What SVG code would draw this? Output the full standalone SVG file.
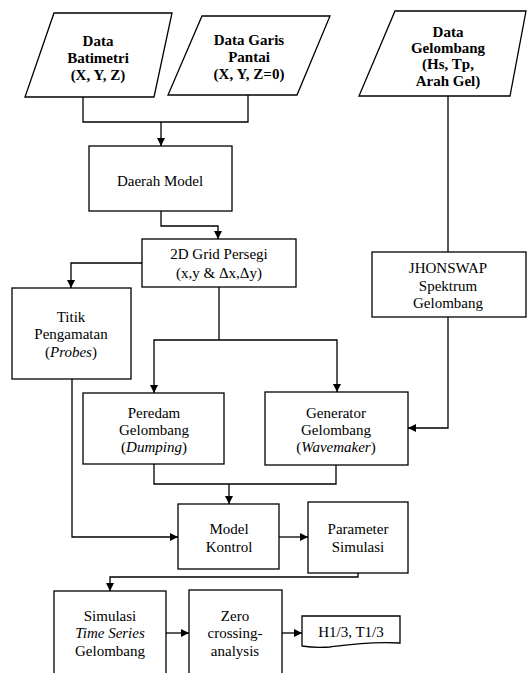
<svg xmlns="http://www.w3.org/2000/svg" width="527" height="673" viewBox="0 0 527 673" font-family="'Liberation Serif', 'Times New Roman', Times, 'DejaVu Serif', serif">
<defs>
<marker id="arr" viewBox="0 0 10 10" refX="10" refY="5" markerWidth="8" markerHeight="8" markerUnits="userSpaceOnUse" orient="auto">
<path d="M0,0 L10,5 L0,10 z" fill="#000"/>
</marker>
<style>
.s{fill:#fff;stroke:#000;stroke-width:1.3}
.c{fill:none;stroke:#000;stroke-width:1.3}
.a{marker-end:url(#arr)}
text{font-size:15px;text-anchor:middle;fill:#000}
.b{font-weight:bold}
.i{font-style:italic}
</style>
</defs>
<rect width="527" height="673" fill="#fff"/>
<g id="connectors">
<path class="c" d="M83,97 V122 H248 V95"/>
<path class="c a" d="M161,122 V146"/>
<path class="c a" d="M161,211 V226 H218 V239"/>
<path class="c a" d="M142,263 H71 V288"/>
<path class="c" d="M219,287 V340"/>
<path class="c a" d="M219,340 H154 V393"/>
<path class="c a" d="M219,340 H337 V392"/>
<path class="c" d="M448,96 V252"/>
<path class="c a" d="M448,317 V428 H408"/>
<path class="c" d="M154,464 V484 H336 V465"/>
<path class="c a" d="M229,484 V504"/>
<path class="c a" d="M72,379 V537 H178"/>
<path class="c a" d="M279,537 H308"/>
<path class="c a" d="M358,573 V577 H110 V591"/>
<path class="c a" d="M166,633 H189"/>
<path class="c a" d="M282,633 H302"/>
</g>
<g id="data-batimetri">
<polygon class="s" points="54,13 172,13 154,97 25,97"/>
<text class="b" x="98" y="46">Data</text>
<text class="b" x="98" y="63">Batimetri</text>
<text class="b" x="98" y="80">(X, Y, Z)</text>
</g>
<g id="data-garis-pantai">
<polygon class="s" points="202,16 330,16 297,95 168,95"/>
<text class="b" x="249" y="45">Data Garis</text>
<text class="b" x="249" y="62">Pantai</text>
<text class="b" x="249" y="79">(X, Y, Z=0)</text>
</g>
<g id="data-gelombang">
<polygon class="s" points="395,11 526,11 510,96 359,96"/>
<text class="b" x="448" y="37">Data</text>
<text class="b" x="448" y="53">Gelombang</text>
<text class="b" x="448" y="69">(Hs, Tp,</text>
<text class="b" x="448" y="86">Arah Gel)</text>
</g>
<g id="daerah-model">
<rect class="s" x="89" y="146" width="143" height="65"/>
<text x="160" y="186">Daerah Model</text>
</g>
<g id="grid">
<rect class="s" x="142" y="239" width="154" height="48"/>
<text x="219" y="259">2D Grid Persegi</text>
<text x="219" y="278">(x,y &amp; Δx,Δy)</text>
</g>
<g id="titik">
<rect class="s" x="12" y="288" width="119" height="91"/>
<text x="71" y="322">Titik</text>
<text x="71" y="339">Pengamatan</text>
<text x="71" y="357">(<tspan class="i">Probes</tspan>)</text>
</g>
<g id="jhonswap">
<rect class="s" x="372" y="252" width="154" height="65"/>
<text x="448" y="273">JHONSWAP</text>
<text x="448" y="291">Spektrum</text>
<text x="448" y="308">Gelombang</text>
</g>
<g id="peredam">
<rect class="s" x="83" y="393" width="141" height="71"/>
<text x="154" y="418">Peredam</text>
<text x="154" y="435">Gelombang</text>
<text x="154" y="452">(<tspan class="i">Dumping</tspan>)</text>
</g>
<g id="generator">
<rect class="s" x="265" y="392" width="143" height="73"/>
<text x="336" y="418">Generator</text>
<text x="336" y="435">Gelombang</text>
<text x="336" y="452">(<tspan class="i">Wavemaker</tspan>)</text>
</g>
<g id="model-kontrol">
<rect class="s" x="178" y="504" width="101" height="65"/>
<text x="229" y="534">Model</text>
<text x="229" y="552">Kontrol</text>
</g>
<g id="parameter">
<rect class="s" x="308" y="502" width="100" height="71"/>
<text x="358" y="534">Parameter</text>
<text x="358" y="552">Simulasi</text>
</g>
<g id="simulasi">
<rect class="s" x="54" y="591" width="112" height="90"/>
<text x="110" y="621">Simulasi</text>
<text class="i" x="110" y="638">Time Series</text>
<text x="110" y="656">Gelombang</text>
</g>
<g id="zero">
<rect class="s" x="189" y="590" width="93" height="90"/>
<text x="235" y="621">Zero</text>
<text x="235" y="638">crossing-</text>
<text x="235" y="656">analysis</text>
</g>
<g id="h13">
<path class="s" d="M302,616 H400 V643 C370,641 345,645 330,647 C318,648 308,647 302,646 Z"/>
<text x="351" y="637">H1/3, T1/3</text>
</g>
</svg>
